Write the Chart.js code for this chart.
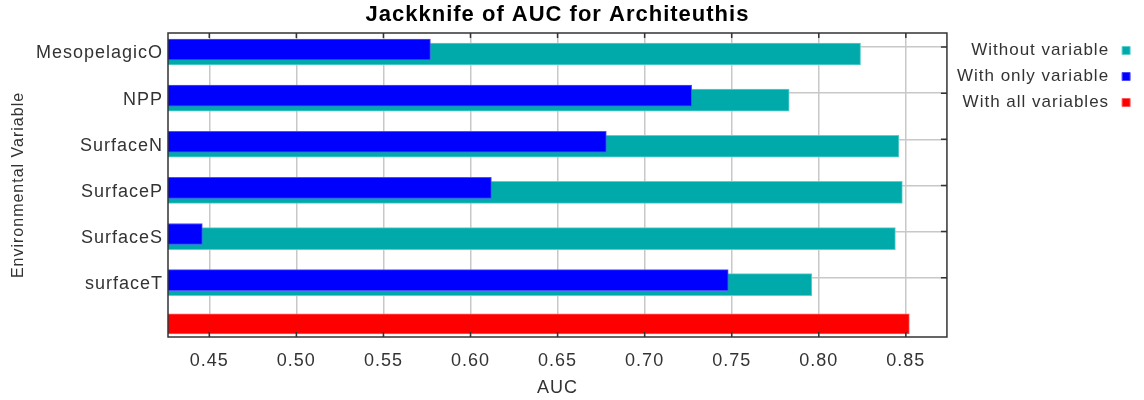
<!DOCTYPE html>
<html>
<head>
<meta charset="utf-8">
<script src="https://cdn.jsdelivr.net/npm/chart.js@4.4.1/dist/chart.umd.min.js"></script>
<style>
html,body{margin:0;padding:0;background:#fff;}
#wrap{width:1144px;height:400px;}
</style>
</head>
<body>
<div id="wrap"><canvas id="c" width="1144" height="400"></canvas></div>
<script>
// ---- data ----
const chartTitle = 'Jackknife of AUC for Architeuthis';
const categories = ['MesopelagicO', 'NPP', 'SurfaceN', 'SurfaceP', 'SurfaceS', 'surfaceT'];
const withoutVariable = [0.824, 0.783, 0.846, 0.848, 0.844, 0.796];
const withOnlyVariable = [0.577, 0.727, 0.678, 0.612, 0.446, 0.748];
const withAllVariables = [0.852];
const seriesLabels = ['Without variable', 'With only variable', 'With all variables'];
const xTickValues = [0.45, 0.50, 0.55, 0.60, 0.65, 0.70, 0.75, 0.80, 0.85];
const xTitle = 'AUC';
const yTitle = 'Environmental Variable';

// ---- styling / scale config ----
const FAMILY = "'Liberation Sans', Arial, sans-serif";
const TEXT = '#333333';
const GRID = '#c8c8c8';
const X_MIN = 0.4263, X_MAX = 0.8736;
const Y_MIN = -0.3034, Y_MAX = 6.2855;
const BLUE_SHIFT = 0.054, TEAL_SHIFT = 0.152;

const spacingPlugin = {
  id: 'spacing',
  beforeUpdate(c) { c.ctx.letterSpacing = '1px'; },
  beforeLayout(c) { c.ctx.letterSpacing = '1px'; },
  beforeDraw(c) { c.ctx.letterSpacing = '1px'; }
};

const framePlugin = {
  id: 'frame',
  afterDraw(chart) {
    const {ctx, chartArea: a} = chart;
    const xs = chart.scales.x, ys = chart.scales.y;
    ctx.save();
    ctx.strokeStyle = '#333333';
    ctx.lineWidth = 1.5;
    ctx.beginPath();
    xs.ticks.forEach(t => {
      const px = xs.getPixelForValue(t.value);
      ctx.moveTo(px, a.top); ctx.lineTo(px, a.top + 5);
      ctx.moveTo(px, a.bottom); ctx.lineTo(px, a.bottom - 5);
    });
    ys.ticks.forEach(t => {
      const py = ys.getPixelForValue(t.value);
      ctx.moveTo(a.right, py); ctx.lineTo(a.right - 6, py);
    });
    ctx.stroke();
    ctx.strokeRect(a.left, a.top, a.right - a.left, a.bottom - a.top);
    ctx.restore();
  }
};

const toPoints = (vals, offset) => vals.map((v, i) => ({x: v, y: i + offset}));

new Chart(document.getElementById('c'), {
  type: 'bar',
  plugins: [spacingPlugin, framePlugin],
  data: {
    datasets: [
      {
        label: seriesLabels[0],
        data: toPoints(withoutVariable, 0),
        yAxisID: 'yTeal',
        backgroundColor: '#00AAAA',
        borderColor: '#5ccfcf',
        borderWidth: 1,
        barThickness: 22,
        grouped: false,
        order: 2
      },
      {
        label: seriesLabels[1],
        data: toPoints(withOnlyVariable, 0),
        yAxisID: 'yBlue',
        backgroundColor: '#0000FF',
        borderColor: '#4d4dff',
        borderWidth: 1,
        barThickness: 21,
        grouped: false,
        order: 1
      },
      {
        label: seriesLabels[2],
        data: toPoints(withAllVariables, categories.length),
        yAxisID: 'y',
        backgroundColor: '#FF0000',
        borderColor: '#ff5a5a',
        borderWidth: 1,
        barThickness: 20,
        grouped: false,
        order: 1
      }
    ]
  },
  options: {
    indexAxis: 'y',
    responsive: false,
    animation: false,
    devicePixelRatio: 1,
    layout: {padding: {left: 0, right: 0.4, top: 0, bottom: 0}},
    plugins: {
      tooltip: {enabled: false},
      title: {
        display: true,
        text: chartTitle,
        fullSize: false,
        color: '#000000',
        font: {family: FAMILY, size: 22, weight: 'bold'},
        padding: {top: 2, bottom: 4.6}
      },
      legend: {
        position: 'right',
        align: 'start',
        fullSize: false,
        rtl: true,
        labels: {
          usePointStyle: true,
          pointStyle: 'rect',
          boxWidth: 17,
          boxHeight: 8,
          padding: 9,
          color: TEXT,
          font: {family: FAMILY, size: 17},
          sort: (a, b) => a.datasetIndex - b.datasetIndex
        }
      }
    },
    scales: {
      x: {
        type: 'linear',
        position: 'bottom',
        min: X_MIN,
        max: X_MAX,
        offset: false,
        afterBuildTicks: s => { s.ticks = xTickValues.map(v => ({value: v})); },
        ticks: {
          callback: v => Number(v).toFixed(2),
          color: TEXT,
          font: {family: FAMILY, size: 18},
          padding: 13,
          maxRotation: 0,
          autoSkip: false
        },
        grid: {color: GRID, lineWidth: 1.5, drawTicks: false, offset: false},
        border: {display: false},
        title: {display: true, text: xTitle, color: TEXT, font: {family: FAMILY, size: 18}, padding: {top: 0, bottom: 1}},
        afterFit: s => { s.height = 63; }
      },
      y: {
        type: 'linear',
        position: 'left',
        reverse: true,
        offset: false,
        min: Y_MIN,
        max: Y_MAX,
        afterBuildTicks: s => { s.ticks = categories.map((_, i) => ({value: i})); },
        ticks: {
          callback: v => categories[v] !== undefined ? categories[v] : '',
          color: TEXT,
          font: {family: FAMILY, size: 18},
          padding: 5,
          labelOffset: 6.5,
          autoSkip: false
        },
        grid: {color: GRID, lineWidth: 1.5, drawTicks: false, offset: false},
        border: {display: false},
        title: {display: true, text: yTitle, color: TEXT, font: {family: FAMILY, size: 16}, padding: {top: 8.5, bottom: 0}},
        afterFit: s => { s.width = 168; }
      },
      yBlue: {
        type: 'linear', display: false, reverse: true, offset: false,
        grid: {offset: false},
        min: Y_MIN - BLUE_SHIFT, max: Y_MAX - BLUE_SHIFT
      },
      yTeal: {
        type: 'linear', display: false, reverse: true, offset: false,
        grid: {offset: false},
        min: Y_MIN - TEAL_SHIFT, max: Y_MAX - TEAL_SHIFT
      }
    }
  }
});
</script>
</body>
</html>
